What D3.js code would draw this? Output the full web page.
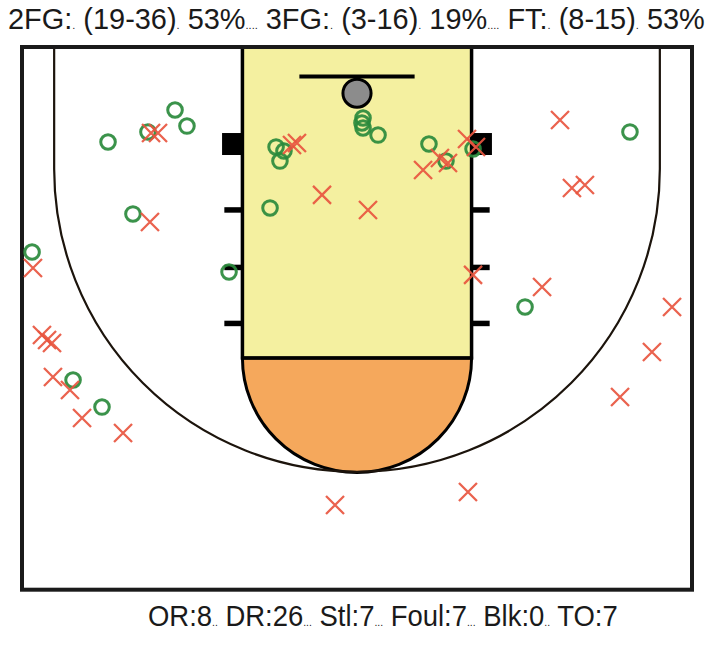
<!DOCTYPE html>
<html>
<head>
<meta charset="utf-8">
<script src="https://cdn.jsdelivr.net/npm/d3@7"></script>
<style>
  html, body { margin: 0; padding: 0; background: #ffffff; }
  svg { display: block; }
</style>
</head>
<body>
<div id="chart"></div>
<script>
// ---------- DATA ----------
const shotTypes = ["2FG", "3FG", "FT"];
const shotsMade = [19, 3, 8];
const shotsAttempted = [36, 16, 15];

const statLabels = ["OR", "DR", "Stl", "Foul", "Blk", "TO"];
const statValues = [8, 26, 7, 7, 0, 7];

// made shots (court units, x: sideline-to-sideline centred on basket, y: from baseline)
const madeX = [-18.58, -15.60, -13.58, -12.69, -16.72, -6.04, -5.45, -5.75, -6.49, 0.45, 0.37, 0.45, 1.57, 5.37, 6.64, 8.66, 20.37, -24.25, -9.55, -21.19, -19.03, 12.54];
const madeY = [7.09, 6.34, 4.70, 5.90, 12.46, 7.46, 7.76, 8.51, 12.01, 5.30, 5.67, 6.04, 6.57, 7.24, 8.51, 7.61, 6.34, 15.30, 16.79, 24.85, 26.87, 19.40];

// missed shots
const missX = [-15.37, -14.85, -15.45, -4.85, -4.48, -2.61, 0.82, 4.93, 6.19, 6.79, 8.21, 8.88, 15.15, 16.04, 17.01, 8.66, 13.81, 23.51, 22.01, 19.63, -24.18, -23.51, -23.13, -22.76, -22.69, -21.42, -20.52, -17.46, -1.64, 8.28];
const missY = [6.42, 6.42, 13.06, 7.31, 7.16, 11.04, 12.16, 9.18, 8.28, 8.66, 6.87, 7.46, 5.45, 10.52, 10.30, 17.01, 17.91, 19.40, 22.76, 26.12, 16.49, 21.49, 21.87, 22.09, 24.63, 25.60, 27.69, 28.81, 34.18, 33.21];

// ---------- LAYOUT ----------
const W = 713, H = 656;
const svg = d3.select("#chart").append("svg").attr("width", W).attr("height", H);

const x = d3.scaleLinear().domain([-25, 25]).range([22, 692]);
const y = d3.scaleLinear().domain([0, 40.5]).range([47, 47 + 40.5 * 13.4]);
const k = x(1) - x(0); // px per unit

const court = svg.append("g");

// court background
court.append("rect")
  .attr("x", x(-25)).attr("y", y(0))
  .attr("width", x(25) - x(-25)).attr("height", y(40.5) - y(0))
  .attr("fill", "#ffffff");

// geometry (court units)
const laneHalf = 8.55, ftY = 23.2, ftR = 8.55;
const threeX = 22.6, threeCY = 9.1, threeR = 22.6;
const rimY = 3.45, rimR = 1.05, boardY = 2.2, boardHalf = 4.3;

// paint
court.append("rect")
  .attr("x", x(-laneHalf)).attr("y", y(0))
  .attr("width", x(laneHalf) - x(-laneHalf)).attr("height", y(ftY) - y(0))
  .attr("fill", "#F4F0A0");

// free-throw semicircle (lower half, filled)
const ft = d3.path();
ft.moveTo(x(-ftR), y(ftY));
ft.arc(x(0), y(ftY), ftR * k, Math.PI, 0, true);
ft.closePath();
court.append("path").attr("d", ft.toString())
  .attr("fill", "#F5A85C").attr("stroke", "#000").attr("stroke-width", 3);

// three point line
const tp = d3.path();
tp.moveTo(x(-threeX), y(0));
tp.lineTo(x(-threeX), y(threeCY));
tp.arc(x(0), y(threeCY), threeR * k, Math.PI, 0, true);
tp.lineTo(x(threeX), y(0));
court.append("path").attr("d", tp.toString())
  .attr("fill", "none").attr("stroke", "#1c140c").attr("stroke-width", 2.2);

// paint outline
court.append("path")
  .attr("d", `M${x(-laneHalf)},${y(0)} L${x(-laneHalf)},${y(ftY)} L${x(laneHalf)},${y(ftY)} L${x(laneHalf)},${y(0)}`)
  .attr("fill", "none").attr("stroke", "#000").attr("stroke-width", 3.5);

// blocks
const blockTop = 6.42, blockBot = 8.06, blockOut = 10.07;
[-1, 1].forEach(s => {
  const xa = x(s * laneHalf), xb = x(s * blockOut);
  court.append("rect")
    .attr("x", Math.min(xa, xb)).attr("y", y(blockTop))
    .attr("width", Math.abs(xb - xa)).attr("height", y(blockBot) - y(blockTop))
    .attr("fill", "#000");
});
// hash marks
const hashYs = [12.16, 16.45, 20.63];
const hashOut = 9.9;
[-1, 1].forEach(s => {
  hashYs.forEach(hy => {
    court.append("line")
      .attr("x1", x(s * laneHalf)).attr("x2", x(s * hashOut))
      .attr("y1", y(hy)).attr("y2", y(hy))
      .attr("stroke", "#000").attr("stroke-width", 5.5);
  });
});

// backboard
court.append("line")
  .attr("x1", x(-boardHalf)).attr("x2", x(boardHalf))
  .attr("y1", y(boardY)).attr("y2", y(boardY))
  .attr("stroke", "#000").attr("stroke-width", 4);
// rim
court.append("circle")
  .attr("cx", x(0)).attr("cy", y(rimY)).attr("r", rimR * k)
  .attr("fill", "#8c8c8c").attr("stroke", "#000").attr("stroke-width", 3);

// outer border
court.append("rect")
  .attr("x", x(-25)).attr("y", y(0))
  .attr("width", x(25) - x(-25)).attr("height", y(40.5) - y(0))
  .attr("fill", "none").attr("stroke", "#1a1a1a").attr("stroke-width", 4);

// ---------- SHOTS ----------
const made = madeX.map((v, i) => ({ x: v, y: madeY[i] }));
const miss = missX.map((v, i) => ({ x: v, y: missY[i] }));

svg.append("g").selectAll("circle").data(made).join("circle")
  .attr("cx", d => x(d.x)).attr("cy", d => y(d.y)).attr("r", 7.3)
  .attr("fill", "none").attr("stroke", "#2A8A3C").attr("stroke-width", 3)
  .attr("stroke-opacity", 0.92);

const xs = 9;
svg.append("g").selectAll("path").data(miss).join("path")
  .attr("d", d => {
    const cx = x(d.x), cy = y(d.y);
    return `M${cx - xs},${cy - xs}L${cx + xs},${cy + xs}M${cx - xs},${cy + xs}L${cx + xs},${cy - xs}`;
  })
  .attr("fill", "none").attr("stroke", "#E8553F").attr("stroke-width", 2.3)
  .attr("stroke-opacity", 0.92);

// ---------- TEXT ----------
const big = 29, small = 11;
function fitText(g, x0, y0, target) {
  const t = g.select("text");
  const w = t.node().getComputedTextLength();
  g.attr("transform", `translate(${x0},${y0}) scale(${target / w},1)`);
}

const titleG = svg.append("g");
const title = titleG.append("text")
  .attr("x", 0).attr("y", 0)
  .attr("font-family", "'Liberation Sans', Arial, sans-serif")
  .attr("font-size", big).attr("fill", "#1a1a1a");
shotTypes.forEach((t, i) => {
  const pct = Math.round(100 * shotsMade[i] / shotsAttempted[i]);
  title.append("tspan").attr("font-size", big).text((i > 0 ? " " : "") + t + ":");
  title.append("tspan").attr("font-size", small).text(".");
  title.append("tspan").attr("font-size", big).text(` (${shotsMade[i]}-${shotsAttempted[i]})`);
  title.append("tspan").attr("font-size", small).text(".");
  title.append("tspan").attr("font-size", big).text(` ${pct}%`);
  if (i < shotTypes.length - 1) title.append("tspan").attr("font-size", small).text("....");
});
fitText(titleG, 8, 29, 697);

const sepDots = ["..", "...", "...", "...", ".."];
const footG = svg.append("g");
const foot = footG.append("text")
  .attr("x", 0).attr("y", 0)
  .attr("font-family", "'Liberation Sans', Arial, sans-serif")
  .attr("font-size", big).attr("fill", "#1a1a1a");
statLabels.forEach((l, i) => {
  foot.append("tspan").attr("font-size", big).text((i > 0 ? " " : "") + l + ":" + statValues[i]);
  if (i < statLabels.length - 1) foot.append("tspan").attr("font-size", small).text(sepDots[i]);
});
fitText(footG, 148, 626, 470);
</script>
</body>
</html>
